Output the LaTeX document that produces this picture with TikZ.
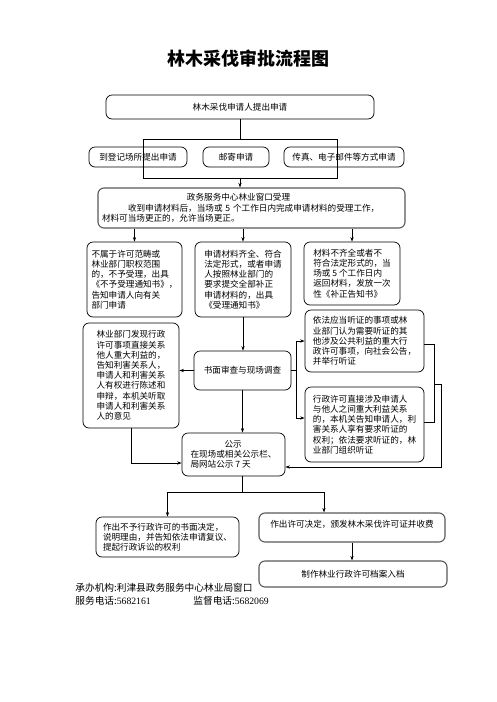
\documentclass[tikz,border=0pt]{standalone}
\usepackage{fontspec}
\setmainfont{Noto Sans CJK SC}
\newfontfamily\numfont{Liberation Serif}
\usetikzlibrary{arrows.meta,calc}
\tikzset{
  flowbox/.style={draw=black, line width=0.7pt, rounded corners=6pt, fill=white,
    align=left, inner xsep=4pt, inner ysep=2pt, font=\fontsize{8.6}{10.2}\selectfont},
  heavybox/.style={flowbox, draw=black!65, line width=1.1pt},
  boxsize/.style 2 args={minimum width=#1, minimum height=#2},
  flowarrow/.style={-{Stealth[length=4.5pt,width=3.2pt]}},
  footnote/.style={anchor=west, inner sep=0pt, font=\fontsize{9.7}{11}\selectfont},
}

\begin{document}
\begin{tikzpicture}[x=1pt,y=-1pt,line width=0.7pt]
\useasboundingbox (0,0) rectangle (496,702);
\node[font=\fontsize{18}{20}\selectfont\bfseries] (title) at (248,59) {林木采伐审批流程图};
\node[flowbox,boxsize={268}{24},align=center] (b1) at (240,107) {林木采伐申请人提出申请};
\node[flowbox,boxsize={98}{20},align=center] (a1) at (138,157) {到登记场所提出申请};
\node[flowbox,boxsize={66}{20},align=center] (a2) at (236,157) {邮寄申请};
\node[flowbox,boxsize={120}{20},align=center] (a3) at (344,157) {传真、电子邮件等方式申请};
\node[heavybox,boxsize={307}{40},text width=299] (b4) at (251.5,208)
  {\hspace*{85pt}政务服务中心林业窗口受理\\
   \hspace*{26pt}收到申请材料后，当场或 5 个工作日内完成申请材料的受理工作，\\
   材料可当场更正的，允许当场更正。};
\node[flowbox,boxsize={95}{75}] (b5) at (134.5,279.5)
  {不属于许可范畴或\\林业部门职权范围\\的，不予受理，出具\\《不予受理通知书》，\\告知申请人向有关\\部门申请};
\node[flowbox,boxsize={96}{75}] (b6) at (243,279.5)
  {申请材料齐全、符合\\法定形式，或者申请\\人按照林业部门的\\要求提交全部补正\\申请材料的，出具\\《受理通知书》};
\node[flowbox,boxsize={96}{63}] (b7) at (352,273.5)
  {材料不齐全或者不\\符合法定形式的，当\\场或 5 个工作日内\\返回材料，发放一次\\性《补正告知书》};
\node[flowbox,boxsize={96}{105}] (b8) at (131,375.5)
  {林业部门发现行政\\许可事项直接关系\\他人重大利益的，\\告知利害关系人，\\申请人和利害关系\\人有权进行陈述和\\申辩，本机关听取\\申请人和利害关系\\人的意见};
\node[flowbox,boxsize={97}{39},align=center] (b9) at (242.5,370.5) {书面审查与现场调查};
\node[flowbox,boxsize={103}{43}] (b10) at (233.5,454.5)
  {\hspace*{34pt}公示\\在现场或相关公示栏、\\局网站公示 7 天};
\node[flowbox,boxsize={119}{62}] (b11) at (364.5,341)
  {依法应当听证的事项或林\\业部门认为需要听证的其\\他涉及公共利益的重大行\\政许可事项，向社会公告，\\并举行听证};
\node[flowbox,boxsize={119}{75}] (b12) at (364.5,424.5)
  {行政许可直接涉及申请人\\与他人之间重大利益关系\\的，本机关告知申请人，利\\害关系人享有要求听证的\\权利；依法要求听证的，林\\业部门组织听证};
\node[flowbox,boxsize={143}{40}] (b13) at (167.5,537)
  {作出不予行政许可的书面决定，\\说明理由，并告知依法申请复议、\\提起行政诉讼的权利};
\node[heavybox,boxsize={186}{29},text depth=8pt] (b14) at (352,527.5)
  {作出许可决定，颁发林木采伐许可证并收费};
\node[heavybox,boxsize={188}{26},align=center] (b15) at (353,574) {制作林业行政许可档案入档};
\node[footnote] (org) at (75,588) {承办机构:利津县政务服务中心林业局窗口};
\node[footnote] (tel) at (75,601) {服务电话:{\numfont 5682161}};
\node[footnote] (sup) at (193,601) {监督电话:{\numfont 5682069}};

\coordinate (brNW) at (143,139);
\coordinate (brSE) at (337,178);
\draw (b1.south) -- (b1.south |- brNW);
\draw (brNW) rectangle (brSE);
\draw[flowarrow] (b1.south |- brSE) -- (b1.south |- b4.north);
\foreach \k in {b5,b6,b7}
  \draw[flowarrow] (b4.south -| \k.north) -- (\k.north);
\draw[flowarrow] (b6.south) -- (b6.south |- b9.north);
\draw[flowarrow] (b9.west) -- (b8.east |- b9.west);
\draw[flowarrow] (b9.south) -- (b9.south |- b10.north);
\draw[flowarrow] (b8.south) |- ($(b10.west)+(0,8.5)$);
\coordinate (jL) at ($(b9.east)+(5,0)$);
\draw (b9.east) -- (jL);
\draw[flowarrow] (jL) |- (b11.west);
\draw[flowarrow] (jL) |- ($(b12.west)+(0,-6.5)$);
\coordinate (jR) at ($(b11.east)+(10,3)$);
\draw (b11.east |- jR) -- (jR) |- ($(b12.east)+(0,-2.5)$);
\coordinate (jM) at ($(jR)!0.5!(jR |- b12.east)$);
\draw[flowarrow] (jM) -- ++(7,0) |- ($(b10.east)+(0,12.5)$);
\draw (b9.south |- b10.south) -- ++(0,16) coordinate (sp);
\draw[flowarrow] (sp) -| (b13.north);
\draw[flowarrow] (sp) -| ($(b14.north)+(-28,0)$);
\draw[flowarrow] (b14.south) -- (b14.south |- b15.north);
\end{tikzpicture}
\end{document}
